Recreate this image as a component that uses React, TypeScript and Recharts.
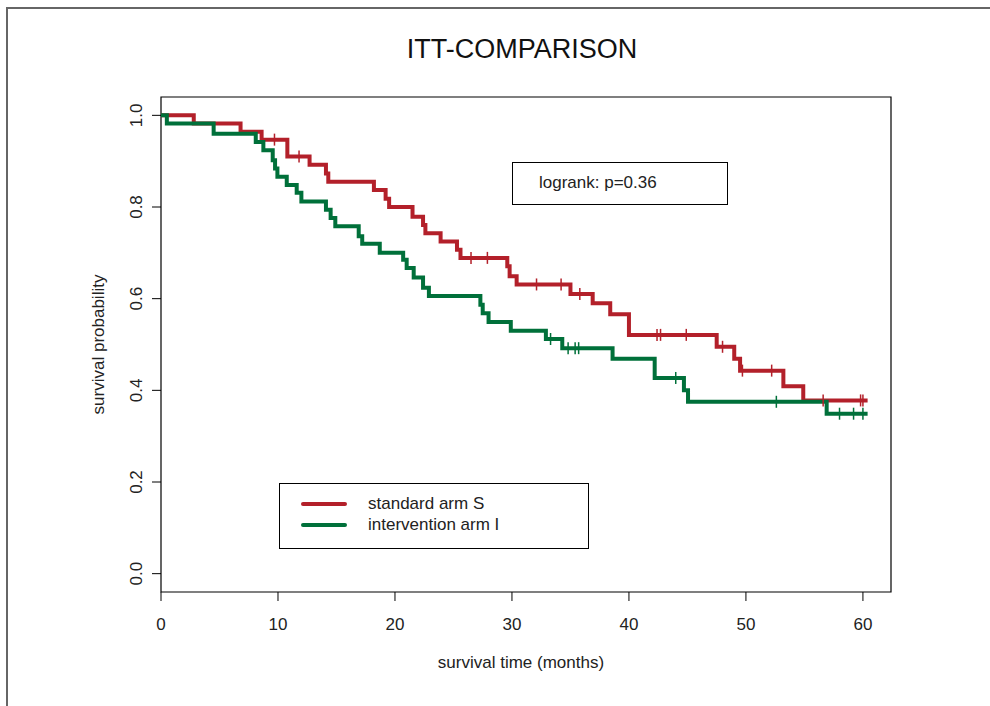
import React from 'react';
import { ComposedChart, Line, Scatter, XAxis, YAxis, ReferenceArea, Label } from 'recharts';

// Kaplan-Meier estimates: step times (months) and survival after each step
const ARMS = ['standard arm S', 'intervention arm I'];
const COLORS = ['#B3202A', '#00703A'];

const STD_TIME = [0, 2.8, 6.8, 8.6, 10.8, 12.7, 14.1, 14.3, 18.2, 19.2, 19.5, 21.5, 22.4, 22.6, 23.9, 25.3, 25.6, 29.6, 29.8, 30.4, 35.0, 36.9, 38.4, 40.0, 47.5, 49.0, 49.5, 53.2, 54.9, 60.4];
const STD_SURV = [1.0, 0.982, 0.964, 0.947, 0.91, 0.892, 0.873, 0.855, 0.837, 0.818, 0.8, 0.779, 0.761, 0.743, 0.725, 0.707, 0.689, 0.671, 0.649, 0.631, 0.61, 0.59, 0.566, 0.521, 0.495, 0.469, 0.443, 0.409, 0.378, 0.378];
const STD_CENSOR = [9.7, 11.8, 26.5, 27.9, 32.1, 34.2, 35.8, 42.4, 42.7, 44.9, 48.0, 49.7, 52.2, 56.6, 59.8, 60.0];

const INT_TIME = [0, 0.5, 4.5, 8.1, 8.75, 9.55, 9.75, 9.95, 10.75, 11.6, 12.0, 14.1, 14.5, 14.9, 16.9, 17.2, 18.7, 20.7, 21.0, 21.6, 22.4, 22.9, 27.3, 27.5, 28.0, 29.9, 32.9, 34.3, 38.6, 42.2, 44.7, 45.05, 56.9, 60.4];
const INT_SURV = [1.0, 0.982, 0.96, 0.942, 0.924, 0.902, 0.884, 0.866, 0.848, 0.831, 0.812, 0.794, 0.776, 0.758, 0.736, 0.72, 0.7, 0.685, 0.667, 0.646, 0.624, 0.606, 0.587, 0.568, 0.549, 0.53, 0.512, 0.492, 0.469, 0.427, 0.4, 0.375, 0.349, 0.349];
const INT_CENSOR = [33.3, 34.8, 35.4, 35.7, 44.0, 52.6, 58.0, 59.2, 60.0];

const X_TICKS = [0, 10, 20, 30, 40, 50, 60];
const Y_TICKS = [0, 0.2, 0.4, 0.6, 0.8, 1.0];
const LOGRANK_P = '0.36';

const FONT = '"Liberation Sans", Arial, sans-serif';

const toSteps = (times: number[], surv: number[]) => times.map((t, i) => ({ t, s: surv[i] }));

const survAt = (times: number[], surv: number[], t: number) => {
  let s = surv[0];
  times.forEach((tt, i) => {
    if (tt <= t) s = surv[i];
  });
  return s;
};

const stdSteps = toSteps(STD_TIME, STD_SURV);
const intSteps = toSteps(INT_TIME, INT_SURV);
const stdCensored = STD_CENSOR.map((t) => ({ t, s: survAt(STD_TIME, STD_SURV, t) }));
const intCensored = INT_CENSOR.map((t) => ({ t, s: survAt(INT_TIME, INT_SURV, t) }));

const censorMark = (color: string) => (props: any) => {
  const { cx, cy } = props;
  return <line x1={cx} x2={cx} y1={cy - 6} y2={cy + 6} stroke={color} strokeWidth={1.5} />;
};

const YTick = ({ x, y, payload }: any) => (
  <text
    x={x - 1}
    y={y}
    transform={`rotate(-90 ${x - 1} ${y})`}
    textAnchor="middle"
    fontSize={17}
    fontFamily={FONT}
    fill="#222"
  >
    {payload.value.toFixed(1)}
  </text>
);

export default function App() {
  return (
    <div style={{ position: 'absolute', left: 0, top: 0, width: 990, height: 706, background: '#fff', fontFamily: FONT }}>
      {/* page frame */}
      <div style={{ position: 'absolute', left: 6, top: 7, right: 0, bottom: 0, borderTop: '2px solid #666', borderLeft: '2px solid #666' }} />

      <div style={{ position: 'absolute', left: 0, width: 1044, top: 34, textAlign: 'center', fontSize: 27, color: '#111' }}>
        ITT-COMPARISON
      </div>

      <ComposedChart width={990} height={706} margin={{ top: 97, right: 99, bottom: 74, left: 111 }}>
        <XAxis
          type="number"
          dataKey="t"
          domain={[0, 62.4]}
          ticks={X_TICKS}
          interval={0}
          allowDataOverflow
          axisLine={false}
          tickLine={{ stroke: '#000' }}
          tickSize={9}
          tickMargin={17}
          height={40}
          tick={{ fontSize: 17, fontFamily: FONT, fill: '#222' }}
        >
          <Label value="survival time (months)" position="bottom" offset={24} fontSize={17} fontFamily={FONT} fill="#222" dx={-5} />
        </XAxis>
        <YAxis
          type="number"
          domain={[-0.04, 1.04]}
          ticks={Y_TICKS}
          interval={0}
          allowDataOverflow
          axisLine={false}
          tickLine={{ stroke: '#000' }}
          tickSize={9}
          tickMargin={9}
          width={50}
          tick={<YTick />}
        >
          <Label
            content={({ viewBox }: any) => {
              const cx = viewBox.x - 7;
              const cy = viewBox.y + viewBox.height / 2;
              return (
                <text x={cx} y={cy} transform={`rotate(-90 ${cx} ${cy})`} textAnchor="middle" fontSize={17} fontFamily={FONT} fill="#222">
                  survival probability
                </text>
              );
            }}
          />
        </YAxis>
        <ReferenceArea x1={0} x2={62.4} y1={-0.04} y2={1.04} fill="none" stroke="#000" strokeWidth={1.2} />
        <Line data={stdSteps} dataKey="s" type="stepAfter" stroke={COLORS[0]} strokeWidth={4} dot={false} isAnimationActive={false} />
        <Line data={intSteps} dataKey="s" type="stepAfter" stroke={COLORS[1]} strokeWidth={4} dot={false} isAnimationActive={false} />
        <Scatter data={stdCensored} dataKey="s" shape={censorMark(COLORS[0])} isAnimationActive={false} />
        <Scatter data={intCensored} dataKey="s" shape={censorMark(COLORS[1])} isAnimationActive={false} />
      </ComposedChart>

      {/* logrank box */}
      <div
        style={{
          position: 'absolute', left: 512, top: 162, width: 216, height: 43, boxSizing: 'border-box',
          border: '1px solid #000', fontSize: 17, color: '#222', paddingLeft: 26, lineHeight: '40px',
        }}
      >
        logrank: p={LOGRANK_P}
      </div>

      {/* legend */}
      <div
        style={{
          position: 'absolute', left: 279, top: 483, width: 310, height: 66, boxSizing: 'border-box',
          border: '1px solid #000', paddingTop: 9, paddingLeft: 21,
        }}
      >
        {ARMS.map((name, i) => (
          <div key={name} style={{ display: 'flex', alignItems: 'center', height: 21 }}>
            <div style={{ width: 46, height: 4, borderRadius: 2, background: COLORS[i], marginRight: 21 }} />
            <span style={{ fontSize: 17, color: '#222', lineHeight: '21px' }}>{name}</span>
          </div>
        ))}
      </div>
    </div>
  );
}
